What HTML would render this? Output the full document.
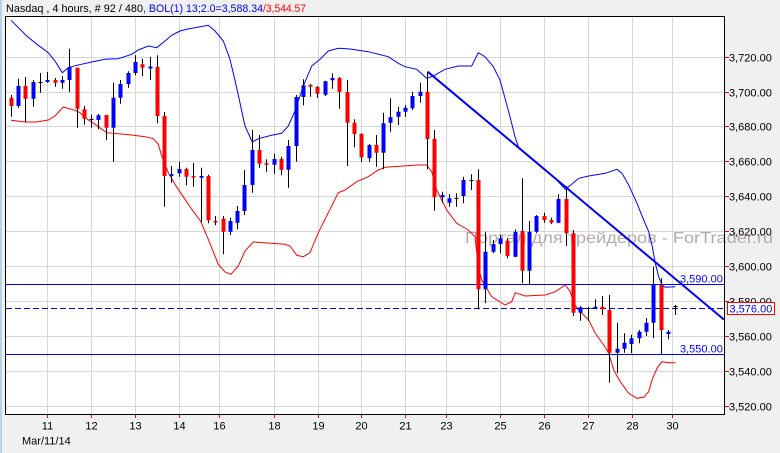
<!DOCTYPE html>
<html><head><meta charset="utf-8"><style>
html,body{margin:0;padding:0;background:#f0f0f0;}
svg{display:block;font-family:"Liberation Sans",Arial,sans-serif;}
</style></head><body>
<svg width="780" height="453" viewBox="0 0 780 453" xmlns="http://www.w3.org/2000/svg">
<rect x="0" y="0" width="780" height="453" fill="#f0f0f0"/>
<rect x="0" y="0" width="2" height="453" fill="#b9d1ea"/>
<!-- header -->
<text x="6" y="12" font-size="11" fill="#000" textLength="137" lengthAdjust="spacingAndGlyphs">Nasdaq , 4 hours, # 92 / 480</text>
<text x="143" y="12" font-size="11" fill="#0000ff" textLength="120" lengthAdjust="spacingAndGlyphs">, BOL(1) 13;2.0=3,588.34</text>
<text x="263" y="12" font-size="11" fill="#ff0000" textLength="43" lengthAdjust="spacingAndGlyphs">/3,544.57</text>
<!-- plot area -->
<rect x="5.5" y="16.5" width="719" height="398" fill="#ffffff"/>
<g stroke="#d6d6d6" stroke-width="1">
<path d="M6 57.5H724M6 92.5H724M6 126.5H724M6 161.5H724M6 196.5H724M6 231.5H724M6 266.5H724M6 301.5H724M6 336.5H724M6 371.5H724M6 406.5H724"/>
<path d="M47.5 17V414M91.5 17V414M135.5 17V414M179.5 17V414M219.5 17V414M274.5 17V414M318.5 17V414M361.5 17V414M405.5 17V414M446.5 17V414M500.5 17V414M544.5 17V414M588.5 17V414M632.5 17V414M672.5 17V414"/>
</g>
<!-- watermark -->
<text x="465" y="243" font-size="16" fill="#b3abab" textLength="308" lengthAdjust="spacingAndGlyphs">Портал для трейдеров - ForTrader.ru</text>
<!-- bollinger upper -->
<polyline fill="none" stroke="#0000ff" stroke-width="1" points="11,20.3 26.7,36 38.3,45.3 48.3,52.7 55,61 62.3,72.7 68.3,67.7 76.7,65.3 91.7,62 105,59.3 118.3,58.7 131.7,54.3 138.3,50 148.3,46 156.7,47.7 165,41 171.7,35.3 180,31 186.7,29.3 208.3,25.3 215,31 223.3,41 230,59.3 236.7,87.7 245,126 252.3,142 258.3,138.7 271.7,135.3 281.7,133.3 288.3,126 295,111 303.3,86 311.7,66 320,59.3 328.3,51 338.3,48.3 350,49 368.3,51.7 388.3,56.7 398.3,63.3 405,66.7 416.7,69.3 426.7,78.3 433.3,76 445,69.3 458.3,66 471.7,66 478.3,52.7 485,56.7 493.3,66.7 500,80 505,98.3 510,116.7 515,136.7 518.3,146.7 525,152.5 540,165 555,178 565.3,189.3 572,184 578.7,178.3 588.7,176 605.3,173.3 617,169.3 622,173.3 628.7,185 637,203.3 643.7,220 648.7,231.7 652,245 655.3,263.3 658.7,276.7 662,285 665.3,287.3 675.3,286.7"/>
<!-- bollinger lower -->
<polyline fill="none" stroke="#ff0000" stroke-width="1" points="11,120.3 25,122 36.7,122 48.3,120 55,116 63.3,107 75,110.3 80,112.7 85,117.7 95,124.3 106.7,132.7 118.3,133.7 131.7,135 145,136.7 153.3,138.7 158.3,144.3 161.7,156 168.3,172.7 175,184.3 188.3,204.3 201,222 208.3,239.3 218.3,264.3 225,272 231,274.3 238.3,266 245,251 253.3,242 263.3,242.7 285,244.3 290,246 296.7,255.3 303.3,256.7 310,252.7 318.3,232.7 328.3,212.7 338.3,192.7 345,190 356.7,181.7 368.3,176.7 378.3,170 385,167.3 403.3,166 416.7,165 426.7,165 431.7,171.7 436.7,190 441.7,200 446.7,210 456.7,223.3 468.3,230 475,236.7 478.3,266.7 481.7,280 491.7,296.7 505,305 511.7,301.7 515.3,292.7 525.3,296 545.3,295 555.3,291.7 565.3,285 570.3,291.7 573.7,303.3 578.7,310 588.7,320 595.3,333.3 603.7,345 608.7,353.3 613.7,370 620.3,381.7 628.7,393.3 637,398.3 643.7,397.3 648.7,391.7 652,380 657,368.3 662,361.7 668.7,362.7 675.3,362.7"/>
<!-- horizontal levels -->
<path d="M6 284.5H724M6 354.5H724" stroke="#0000ff" stroke-width="1"/>
<path d="M6 308.5H724" stroke="#0000ff" stroke-width="1" stroke-dasharray="6,3"/>
<text x="680" y="282.5" font-size="11" fill="#0000ff">3,590.00</text>
<text x="680" y="352.5" font-size="11" fill="#0000ff">3,550.00</text>
<!-- wicks -->
<path fill="none" stroke="#000" stroke-width="1" d="M11.5 95V116.7 M18.5 78.7V107.7 M25.5 77V122 M33.5 80V106.7 M40.5 73V92.7 M47.5 72V82.7 M55.5 78V86.7 M62.5 76V88.7 M69.5 48.7V92 M77.5 67.7V127.7 M84.5 106V124.7 M91.5 114.7V127.7 M98.5 114V129.3 M106.5 115V140 M113.5 82.7V161.7 M120.5 80V103.7 M128.5 71.3V87.7 M135.5 55.3V75.3 M142.5 58.7V76 M150.5 56.7V80 M157.5 55.3V123.3 M164.5 112V206.7 M171.5 166V182.7 M179.5 161.7V176.7 M186.5 167.7V185.3 M193.5 163V186.7 M201.5 167.7V222 M208.5 174.7V223.3 M215.5 216V225.3 M223.5 216V254.3 M230.5 217.7V235 M237.5 206V229.3 M244.5 170V215 M252.5 129.7V192.7 M259.5 135V167.7 M266.5 159.3V171.7 M274.5 153.7V173.7 M281.5 156.7V175.3 M288.5 140V187.7 M296.5 95V161.7 M303.5 79.3V105.3 M310.5 83.7V96.7 M317.5 86V98 M325.5 80.7V96 M332.5 73.3V88.7 M339.5 77V108.7 M347.5 80V166 M354.5 119.3V147.3 M361.5 133.3V161.7 M369.5 144V161.7 M376.5 135V166.7 M383.5 112.7V169.3 M390.5 98.3V131.7 M398.5 106.7V125 M405.5 105V116.7 M412.5 91.7V110 M420.5 82.7V102.7 M427.5 71.7V169.3 M434.5 130V210.7 M442.5 191.7V202.7 M449.5 194V206.7 M456.5 193.3V206.7 M463.5 176.7V203.3 M471.5 174.3V190 M478.5 169.3V309.3 M485.5 231.7V303.3 M493.5 240V253.3 M500.5 235V253.3 M507.5 238.3V258.3 M515.5 229.3V257.3 M522.5 178.3V283.3 M529.5 221V284 M536.5 215V233.3 M544.5 212.7V222.7 M551.5 217.7V224 M558.5 194.3V223.3 M566.5 186V246 M573.5 230V316 M580.5 306V320.7 M588.5 306.7V320.7 M595.5 299.3V309.3 M602.5 296V315 M609.5 295V382.7 M617.5 322.7V373.3 M624.5 333.3V352.7 M631.5 334.7V353.3 M639.5 330V343.3 M646.5 318V336 M653.5 266.7V338.3 M661.5 278.3V354 M668.5 330V339.3 M675.5 305V315"/>
<!-- blue bodies -->
<path fill="none" stroke="#0000ff" stroke-width="4" d="M18.5 86V106 M33.5 82V98.7 M47.5 80V82 M62.5 80V82.7 M69.5 67V80 M98.5 115.3V120 M113.5 97.7V127.7 M120.5 84V97.7 M128.5 73V84 M135.5 62V73 M150.5 66.5V68.5 M171.5 174.3V176 M179.5 169V173.3 M201.5 176V177.7 M230.5 221V231.7 M237.5 211V222.7 M244.5 185V211 M252.5 150V185 M274.5 159V164.7 M288.5 146V169.7 M296.5 97V146 M303.5 85.3V97 M325.5 81.3V94.7 M332.5 78V80.3 M369.5 145V158.3 M383.5 123.3V152.7 M390.5 117.3V122.7 M398.5 111.7V116.7 M405.5 107.7V111.7 M412.5 96V108.3 M420.5 91.7V96 M442.5 195V197.3 M449.5 198.3V202.7 M463.5 180V196 M485.5 251.7V289.3 M493.5 244V251.7 M500.5 238.3V244 M515.5 231.7V256.7 M529.5 231.7V270.7 M536.5 216V231.7 M558.5 199V222.7 M580.5 307.3V312.7 M595.5 306.7V308.7 M617.5 348.7V352.7 M624.5 342.7V348.7 M631.5 338.3V344 M639.5 331.7V338.3 M646.5 322.7V331.7 M653.5 284V322.7 M668.5 331.7V334"/>
<!-- red bodies -->
<path fill="none" stroke="#ff0000" stroke-width="4" d="M11.5 97.7V106 M25.5 86V98.7 M55.5 80V82.7 M77.5 67.7V108.7 M84.5 109.3V118.7 M106.5 115V127.7 M142.5 64.3V67.7 M157.5 67V116 M164.5 116V176 M186.5 169V176.7 M193.5 176V177.5 M208.5 176V220.3 M215.5 221V222.5 M223.5 218.7V231.7 M259.5 150V163.7 M266.5 163.3V164.8 M281.5 159V169.7 M310.5 85V86.7 M317.5 87V93.7 M339.5 78V92 M347.5 92V122.7 M354.5 122.7V134 M361.5 134V157.3 M376.5 145V152.7 M427.5 91.7V139 M434.5 139V197.3 M478.5 180V289.3 M507.5 240.7V256 M522.5 231V270.7 M544.5 216V220 M551.5 220V222.7 M566.5 199V233.3 M573.5 233.3V312.7 M602.5 306.7V309.3 M609.5 310V352.7 M661.5 285V330"/>
<!-- doji -->
<path fill="none" stroke="#000" stroke-width="1" d="M38.5 82.5h4 M89.5 119.5h4 M454.5 198.5h4 M469.5 180.5h4 M586.5 308.5h4 M673.5 306.5h4"/>
<!-- trendline -->
<line x1="427.7" y1="71.7" x2="724" y2="319.6" stroke="#0000ff" stroke-width="2"/>
<!-- border -->
<rect x="5.5" y="16.5" width="719" height="398" fill="none" stroke="#000" stroke-width="1"/>
<!-- right axis ticks -->
<path stroke="#ff0000" stroke-width="1" d="M725 57.5h4M725 92.5h4M725 126.5h4M725 161.5h4M725 196.5h4M725 231.5h4M725 266.5h4M725 301.5h4M725 336.5h4M725 371.5h4M725 406.5h4"/>
<g font-size="11" fill="#000">
<text x="729" y="61.5">3,720.00</text>
<text x="729" y="96.5">3,700.00</text>
<text x="729" y="130.5">3,680.00</text>
<text x="729" y="165.5">3,660.00</text>
<text x="729" y="200.5">3,640.00</text>
<text x="729" y="235.5">3,620.00</text>
<text x="729" y="270.5">3,600.00</text>
<text x="729" y="305.5">3,580.00</text>
<text x="729" y="340.5">3,560.00</text>
<text x="729" y="375.5">3,540.00</text>
<text x="729" y="410.5">3,520.00</text>
</g>
<!-- current price box -->
<rect x="727.5" y="302.5" width="47" height="12" fill="#ffffff" stroke="#ff0000" stroke-width="1"/>
<text x="729.5" y="312.5" font-size="11" fill="#0000ff">3,576.00</text>
<!-- bottom ticks -->
<path stroke="#ff0000" stroke-width="1" d="M47.5 415v3M91.5 415v3M135.5 415v3M179.5 415v3M219.5 415v3M274.5 415v3M318.5 415v3M361.5 415v3M405.5 415v3M446.5 415v3M500.5 415v3M544.5 415v3M588.5 415v3M632.5 415v3M672.5 415v3"/>
<g font-size="11" fill="#000" text-anchor="middle">
<text x="47.5" y="429.5">11</text>
<text x="91.5" y="429.5">12</text>
<text x="135.5" y="429.5">13</text>
<text x="179.5" y="429.5">14</text>
<text x="219.5" y="429.5">16</text>
<text x="274.5" y="429.5">18</text>
<text x="318.5" y="429.5">19</text>
<text x="361.5" y="429.5">20</text>
<text x="405.5" y="429.5">21</text>
<text x="446.5" y="429.5">23</text>
<text x="500.5" y="429.5">25</text>
<text x="544.5" y="429.5">26</text>
<text x="588.5" y="429.5">27</text>
<text x="632.5" y="429.5">28</text>
<text x="672.5" y="429.5">30</text>
</g>
<text x="22" y="444.5" font-size="11" fill="#000">Mar/11/14</text>
</svg>
</body></html>
